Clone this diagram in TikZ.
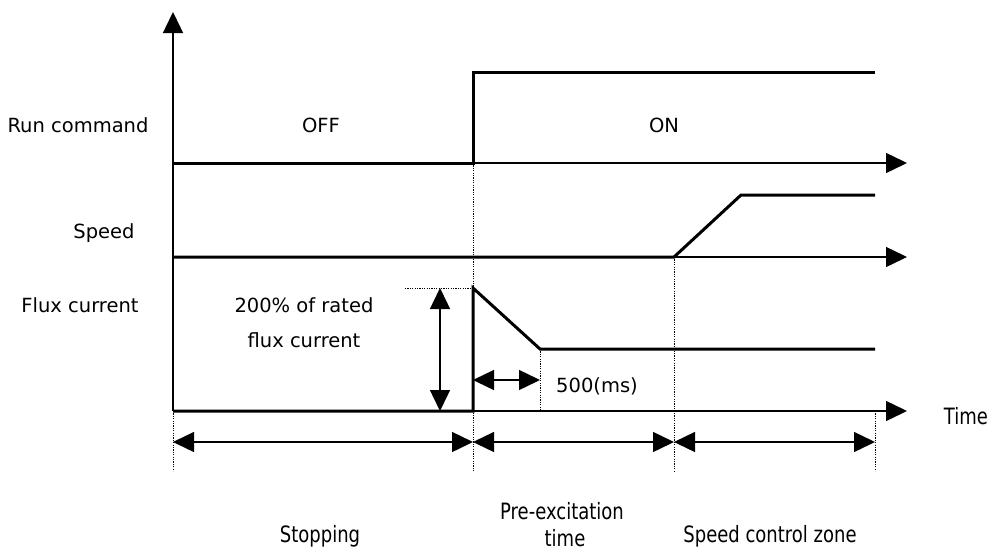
\documentclass[tikz,border=0pt]{standalone}
\usepackage{fontspec}
\setmainfont{DejaVu Sans}
\newfontfamily\condfont[FakeStretch=0.8]{DejaVu Sans}
\usetikzlibrary{arrows.meta}
\tikzset{
  signal/.style={line width=3pt},
  axisline/.style={line width=1.4pt,-{Triangle[length=21pt,width=20pt]}},
  spanarrow/.style={line width=1.4pt,{Triangle[length=21pt,width=20pt]}-{Triangle[length=21pt,width=20pt]}},
  guide/.style={line width=1pt,dash pattern=on 1.2pt off 1.2pt},
  lbl/.style={inner sep=0pt,font=\fontsize{19.5}{22}\selectfont},
  zonelbl/.style={inner sep=0pt,font=\condfont\fontsize{22.5}{25}\selectfont},
}
\begin{document}
\begin{tikzpicture}[x=1pt,y=-1pt]
  \useasboundingbox (0,0) rectangle (992,552);
  \coordinate (top) at (173,12);
  \coordinate (run0) at (173,163);
  \coordinate (run1) at (473,163);
  \coordinate (run2) at (473,72);
  \coordinate (run3) at (875,72);
  \coordinate (runend) at (907,163);
  \coordinate (spd0) at (173,257);
  \coordinate (spd1) at (674,257);
  \coordinate (spd2) at (741,195);
  \coordinate (spd3) at (875,195);
  \coordinate (spdend) at (907,257);
  \coordinate (flx0) at (173,411);
  \coordinate (flx1) at (473,411);
  \coordinate (flx2) at (473,288);
  \coordinate (flx3) at (540,349);
  \coordinate (flx4) at (875,349);
  \coordinate (flxend) at (907,411);
  \coordinate (flxbase) at (540,411);
  \coordinate (peak) at (405,288);
  \coordinate (amptop) at (440,288);
  \coordinate (ampbot) at (440,411);
  \coordinate (pre0) at (473,380);
  \coordinate (pre1) at (540,380);
  \coordinate (zoneA) at (173,442);
  \coordinate (zoneB) at (473,442);
  \coordinate (zoneC) at (674,442);
  \coordinate (zoneD) at (875,442);
  \coordinate (endA) at (173,471);
  \coordinate (endB) at (473,471);
  \coordinate (endC) at (674,471);
  \coordinate (endD) at (875,471);
  \coordinate (timeD) at (875,411);

  \draw[guide] (run1) -- (endB);
  \draw[guide] (spd1) -- (endC);
  \draw[guide] (flx0) -- (endA);
  \draw[guide] (timeD) -- (endD);
  \draw[guide] (flx3) -- (flxbase);
  \draw[guide] (peak) -- (flx2);

  \draw[axisline] (flx0) -- (top);
  \draw[axisline] (run0) -- (runend);
  \draw[axisline] (spd0) -- (spdend);
  \draw[axisline] (flx0) -- (flxend);

  \draw[signal] (run0) -- (run1) -- (run2) -- (run3);
  \draw[signal] (spd0) -- (spd1) -- (spd2) -- (spd3);
  \draw[signal] (flx0) -- (flx1) -- (flx2) -- (flx3) -- (flx4);

  \draw[spanarrow] (amptop) -- (ampbot);
  \draw[spanarrow] (pre0) -- (pre1);
  \draw[spanarrow] (zoneA) -- (zoneB);
  \draw[spanarrow] (zoneB) -- (zoneC);
  \draw[spanarrow] (zoneC) -- (zoneD);

  \node[lbl] (runlbl) at (78,125) {Run command};
  \node[lbl] (spdlbl) at (104,233) {Speed};
  \node[lbl] (flxlbl) at (80,305) {Flux current};
  \node[lbl] (off) at (321,125) {OFF};
  \node[lbl] (on) at (664,125) {ON};
  \node[lbl] (rated1) at (304,305) {200\% of rated};
  \node[lbl] (rated2) at (304,340) {flux current};
  \node[lbl] (ms) at (597,386) {500(ms)};
  \node[zonelbl] (timelbl) at (966,416) {Time};
  \node[zonelbl] (stop) at (320,536) {Stopping};
  \node[zonelbl] (pre) at (562,511) {Pre-excitation};
  \node[zonelbl] (pretime) at (565,538) {time};
  \node[zonelbl] (ctrl) at (770,536) {Speed control zone};
\end{tikzpicture}
\end{document}
